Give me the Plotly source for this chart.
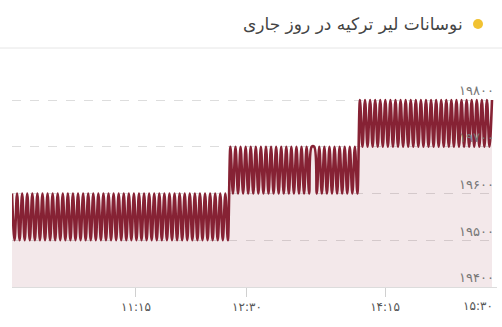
import plotly.graph_objects as go

# Price readings (Rial) in three sessions
seg1 = [
    19600, 19500, 19600, 19500, 19600, 19500, 19600, 19500, 19600, 19500,
    19600, 19500, 19600, 19500, 19600, 19500, 19600, 19500, 19600, 19500,
    19600, 19500, 19600, 19500, 19600, 19500, 19600, 19500, 19600, 19500,
    19600, 19500, 19600, 19500, 19600, 19500, 19600, 19500, 19600, 19500,
    19600, 19500, 19600, 19500, 19600, 19500, 19600, 19500, 19600, 19500,
    19600, 19500, 19600, 19500, 19600, 19500, 19600, 19500, 19600, 19500,
    19600, 19500, 19600, 19500, 19600, 19500, 19600, 19500, 19600, 19500,
    19600, 19500, 19600, 19500, 19600, 19500, 19600, 19500, 19600, 19500,
    19600, 19500, 19600, 19500, 19600, 19500,
]
seg2 = [
    19700, 19600, 19700, 19600, 19700, 19600, 19700, 19600, 19700, 19600,
    19700, 19600, 19700, 19600, 19700, 19600, 19700, 19600, 19700, 19600,
    19700, 19600, 19700, 19600, 19700, 19600, 19700, 19600, 19700, 19600,
    19700, 19600, 19700, 19700, 19600, 19700, 19600, 19700, 19600, 19700,
    19600, 19700, 19600, 19700, 19600, 19700, 19600, 19700, 19600, 19700,
    19600,
]
seg3 = [
    19800, 19700, 19800, 19700, 19800, 19700, 19800, 19700, 19800, 19700,
    19800, 19700, 19800, 19700, 19800, 19700, 19800, 19700, 19800, 19700,
    19800, 19700, 19800, 19700, 19800, 19700, 19800, 19700, 19800, 19700,
    19800, 19700, 19800, 19700, 19800, 19700, 19800, 19700, 19800, 19700,
    19800, 19700, 19800, 19700, 19800, 19700, 19800, 19700, 19800, 19700,
    19800, 19700, 19800,
]
values = seg1 + seg2 + seg3

x_tick_labels = ["۱۱:۱۵", "۱۲:۳۰", "۱۴:۱۵", "۱۵:۳۰"]
x_tick_index = [48.8, 92.5, 146.9, 188.2]
y_tick_values = [19400, 19500, 19600, 19700, 19800]
y_tick_labels = ["۱۹۴۰۰", "۱۹۵۰۰", "۱۹۶۰۰", "۱۹۷۰۰", "۱۹۸۰۰"]
title_text = "نوسانات لیر ترکیه در روز جاری"

n = len(values)
xs = list(range(n))

FONT = "DejaVu Sans"
W, H = 502, 327
ML, MR, MT, MB = 12, 5, 60, 40
PW, PH = W - ML - MR, H - MT - MB

def px(x):
    return (x - ML) / PW

def py(y):
    return (H - MB - y) / PH

fig = go.Figure()
fig.add_trace(go.Scatter(
    x=xs, y=values, mode="lines",
    line=dict(color="#862234", width=2.6, shape="spline", smoothing=1),
    fill="tozeroy", fillcolor="rgba(134,34,52,0.10)",
    hoverinfo="skip", showlegend=False,
))

# last x label sits left of its tick (kept inside the chart)
shown_text = x_tick_labels[:-1] + [""]

fig.update_layout(
    width=W, height=H,
    margin=dict(l=ML, r=MR, t=MT, b=MB),
    paper_bgcolor="white", plot_bgcolor="white",
    font=dict(family=FONT, color="#555"),
    xaxis=dict(
        range=[0, (n - 1) * PW / 480.0],
        tickvals=x_tick_index, ticktext=shown_text,
        showgrid=False, zeroline=False,
        showline=True, linecolor="#dcdcdc", linewidth=1,
        ticks="outside", ticklen=9, tickcolor="#d0d0d0",
        tickfont=dict(size=12, color="#555", family=FONT),
    ),
    yaxis=dict(
        range=[19400, 19400 + PH / 46.75 * 100],
        side="right",
        tickvals=y_tick_values, ticktext=y_tick_labels,
        ticklabelposition="inside top",
        showgrid=True, gridcolor="#dddddd", griddash="dash",
        zeroline=False, showline=False, ticks="",
        tickfont=dict(size=13, color="#777", family=FONT),
    ),
)

fig.add_annotation(text=x_tick_labels[-1], xref="x", yref="paper",
                   x=x_tick_index[-1] + 2, y=py(306), xanchor="right",
                   yanchor="middle", showarrow=False,
                   font=dict(size=12, color="#555", family=FONT))

fig.add_shape(type="line", xref="paper", yref="paper",
              x0=px(0), x1=px(W), y0=py(48), y1=py(48),
              line=dict(color="#e6e6e6", width=1))
fig.add_shape(type="circle", xref="paper", yref="paper",
              x0=px(473), x1=px(483), y0=py(29), y1=py(19),
              fillcolor="#f1c232", line=dict(width=0))
fig.add_annotation(text=title_text, xref="paper", yref="paper",
                   x=px(465), y=py(24), xanchor="right", yanchor="middle",
                   showarrow=False,
                   font=dict(size=17, color="#444", family=FONT))

fig.write_html("out.html")
